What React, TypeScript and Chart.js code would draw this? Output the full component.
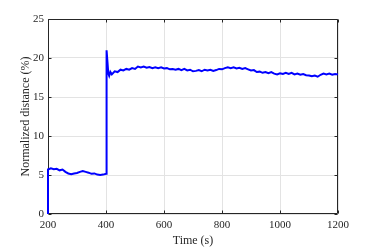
import React, { useEffect, useRef } from "react";
import { Chart, registerables } from "chart.js";

Chart.register(...registerables);

const times: number[] = [
  200, 200, 210, 220, 230, 240, 250, 260, 270, 280, 290, 300, 310, 320, 330, 340, 350, 360, 370, 380, 390, 400,
  402, 405, 408, 411, 415, 420, 430, 440, 450, 460, 470, 480, 490, 500,
  510, 520, 530, 540, 550, 560, 570, 580, 590, 600,
  610, 620, 630, 640, 650, 660, 670, 680, 690, 700,
  710, 720, 730, 740, 750, 760, 770, 780, 790, 800,
  810, 820, 830, 840, 850, 860, 870, 880, 890, 900,
  910, 920, 930, 940, 950, 960, 970, 980, 990, 1000,
  1010, 1020, 1030, 1040, 1050, 1060, 1070, 1080, 1090, 1100,
  1110, 1120, 1130, 1140, 1150, 1160, 1170, 1180, 1190, 1200,
];

const distance: number[] = [
  0, 5.7, 5.85, 5.75, 5.8, 5.6, 5.7, 5.4, 5.2, 5.1, 5.2, 5.25, 5.4, 5.5, 5.4, 5.3, 5.15, 5.2, 5.05, 5.0, 5.05, 5.15,
  21.0, 19.5, 18.0, 17.7, 18.2, 17.9, 18.3, 18.2, 18.5, 18.4, 18.6, 18.5, 18.7, 18.6,
  18.9, 18.8, 18.9, 18.75, 18.85, 18.7, 18.8, 18.7, 18.8, 18.65,
  18.7, 18.55, 18.6, 18.5, 18.6, 18.45, 18.6, 18.4, 18.5, 18.3,
  18.35, 18.45, 18.3, 18.5, 18.4, 18.5, 18.35, 18.45, 18.6, 18.55,
  18.7, 18.8, 18.7, 18.8, 18.65, 18.75, 18.6, 18.7, 18.55, 18.4,
  18.45, 18.2, 18.25, 18.1, 18.2, 18.05, 18.2, 18.0, 17.9, 18.05,
  17.95, 18.1, 17.95, 18.1, 17.9, 18.0, 17.85, 17.95, 17.8, 17.75,
  17.65, 17.75, 17.6, 17.85, 18.0, 17.9, 18.0, 17.85, 17.95, 17.9,
];

const xTicks: number[] = [200, 400, 600, 800, 1000, 1200];
const yTicks: number[] = [0, 5, 10, 15, 20, 25];

const FONT = "'Liberation Serif', 'Times New Roman', serif";
const TEXT = "#262626";

const boxPlugin = {
  id: "boxTicks",
  beforeDatasetsDraw(chart: any) {
    const { ctx, chartArea: a, scales } = chart;
    const L = Math.round(a.left) + 0.5;
    const R = Math.round(a.right) - 0.5;
    const T = Math.round(a.top) + 0.5;
    const B = Math.round(a.bottom) - 0.5;
    ctx.save();
    ctx.strokeStyle = TEXT;
    ctx.lineWidth = 1;
    ctx.beginPath();
    ctx.rect(L, T, R - L, B - T);
    const tl = 3;
    xTicks.forEach((v) => {
      const px = Math.round(scales.x.getPixelForValue(v)) + 0.5;
      ctx.moveTo(px, B);
      ctx.lineTo(px, B - tl);
      ctx.moveTo(px, T);
      ctx.lineTo(px, T + tl);
    });
    yTicks.forEach((v) => {
      const py = Math.round(scales.y.getPixelForValue(v)) + 0.5;
      ctx.moveTo(L, py);
      ctx.lineTo(L + tl, py);
      ctx.moveTo(R, py);
      ctx.lineTo(R - tl, py);
    });
    ctx.stroke();
    ctx.restore();
  },
};

export default function App() {
  const ref = useRef<HTMLCanvasElement | null>(null);
  useEffect(() => {
    if (!ref.current) return;
    const chart = new Chart(ref.current, {
      type: "line",
      data: {
        datasets: [
          {
            data: times.map((t, i) => ({ x: t, y: distance[i] })),
            borderColor: "#0000ff",
            borderWidth: 2,
            pointRadius: 0,
            tension: 0,
            fill: false,
            clip: 2,
          },
        ],
      },
      plugins: [boxPlugin],
      options: {
        animation: false,
        responsive: false,
        maintainAspectRatio: false,
        layout: { padding: { top: 19, right: 36, left: 0, bottom: 0 } },
        plugins: { legend: { display: false }, tooltip: { enabled: false } },
        scales: {
          x: {
            type: "linear",
            min: 200,
            max: 1200,
            afterBuildTicks: (s: any) => {
              s.ticks = xTicks.map((v) => ({ value: v }));
            },
            afterFit: (s: any) => {
              s.height = 36;
            },
            grid: { color: "#e3e3e3", drawTicks: false },
            border: { display: false },
            ticks: {
              color: TEXT,
              font: { family: FONT, size: 11 },
              padding: 5,
              maxRotation: 0,
              callback: (v: any) => String(v),
            },
            title: {
              display: true,
              text: "Time (s)",
              color: TEXT,
              font: { family: FONT, size: 12 },
              padding: { top: 0, bottom: 2 },
            },
          },
          y: {
            type: "linear",
            min: 0,
            max: 25,
            afterBuildTicks: (s: any) => {
              s.ticks = yTicks.map((v) => ({ value: v }));
            },
            afterFit: (s: any) => {
              s.width = 48;
            },
            grid: { color: "#e3e3e3", drawTicks: false },
            border: { display: false },
            ticks: {
              color: TEXT,
              font: { family: FONT, size: 11 },
              padding: 4,
              callback: (v: any) => String(v),
            },
            title: {
              display: true,
              text: "Normalized distance (%)",
              color: TEXT,
              font: { family: FONT, size: 12 },
              padding: { top: 19, bottom: 0 },
            },
          },
        },
      },
    });
    return () => chart.destroy();
  }, []);
  return (
    <div style={{ position: "fixed", left: 0, top: 0, width: 374, height: 250, background: "#fff" }}>
      <canvas ref={ref} width={374} height={250} style={{ display: "block" }} />
    </div>
  );
}
